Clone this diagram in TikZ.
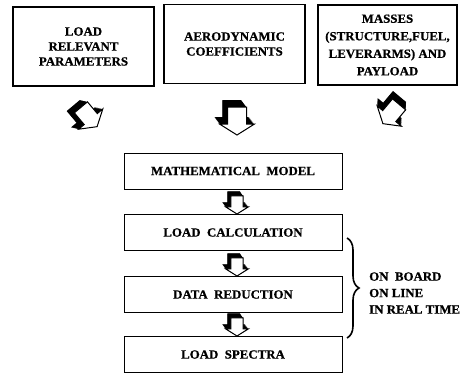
\documentclass[tikz,border=0pt]{standalone}
\usepackage{fontspec}
\setmainfont{Liberation Serif}[FakeStretch=1.03, BoldFeatures={FakeBold=0.8}]
\usetikzlibrary{calc, decorations.pathreplacing}
\tikzset{
    box/.style={draw, line width=1pt, minimum width=218pt, minimum height=36pt, inner sep=0pt,
        align=center, font=\bfseries\fontsize{12.5}{15}\selectfont}, % Lower chain of boxes
    topbox/.style={box, line width=1.4pt, minimum width=141pt, minimum height=79pt}, % Input boxes
    arrowpath/.style={insert path={(-9.5,-14) -- (9.5,-14) -- (9.5,3) -- (17.5,3) -- (0,14) -- (-17.5,3) -- (-9.5,3) -- cycle}},
}
% Hollow block arrow with a black extrusion: centre, rotation, scale
\newcommand{\blockarrow}[3]{%
  \begin{scope}[shift={#1}, rotate=#2, scale=#3]
    \foreach \d in {0,0.5,...,7}
      \fill[black, shift={(-0.75*\d,-\d)}, arrowpath];
    \draw[line width=1pt, fill=white, arrowpath];
  \end{scope}}

\begin{document}
\begin{tikzpicture}[x=1pt, y=-1pt]
  \useasboundingbox (0,0) rectangle (463,373);

  \node[topbox] (load) at (83.5,46.5) {LOAD\\RELEVANT\\PARAMETERS};
  \node[topbox] (aero) at (234.5,44) {AERODYNAMIC\\COEFFICIENTS};
  \node[topbox, minimum width=139pt, minimum height=80pt, font=\bfseries\fontsize{12.5}{17.5}\selectfont]
    (mass) at (387.5,45) {MASSES\\(STRUCTURE,FUEL,\\LEVERARMS) AND\\PAYLOAD};

  \blockarrow{(89,117)}{40}{0.9}
  \blockarrow{(237,121)}{0}{1}
  \blockarrow{(391,114)}{-40}{0.9}

  \node[box] (model) at (233,171) {MATHEMATICAL\ \ MODEL};
  \node[box] (calc) at (233,232.5) {LOAD\ \ CALCULATION};
  \node[box] (reduc) at (233,294.5) {DATA\ \ REDUCTION};
  \node[box] (spec) at (233,354.5) {LOAD\ \ SPECTRA};

  \blockarrow{($(calc.north)+(4,-9.1)$)}{0}{0.65}
  \blockarrow{($(reduc.north)+(4,-9.1)$)}{0}{0.65}
  \blockarrow{($(spec.north)+(4,-9.1)$)}{0}{0.65}

  \coordinate (bracetop) at (347,238);
  \coordinate (bracebot) at (347,338);
  \draw[line width=1.6pt, decorate, decoration={brace, amplitude=12pt}] (bracetop) -- (bracebot);
  \node[right, align=left, inner sep=0pt, font=\bfseries\fontsize{12.5}{16.5}\selectfont]
    (board) at (369,293) {ON\ \ BOARD\\ON LINE\\IN REAL TIME};
\end{tikzpicture}
\end{document}
